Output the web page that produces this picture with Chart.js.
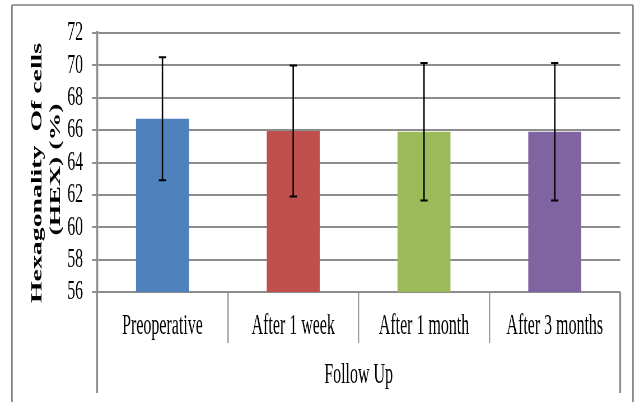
<!DOCTYPE html>
<html>
<head>
<meta charset="utf-8">
<script src="https://cdn.jsdelivr.net/npm/chart.js@4.4.1/dist/chart.umd.min.js"></script>
<style>
html, body { margin: 0; padding: 0; background: #fff; overflow: hidden; }
/* the reference picture is squeezed sideways: draw wide, squeeze with css */
#wrap { width: 1136px; height: 402px; transform: scaleX(0.56); transform-origin: 0 0; }
</style>
</head>
<body>
<div id="wrap"><canvas id="chart" width="1136" height="402"></canvas></div>
<script>
// Dữ liệu
const categories = ['Preoperative', 'After 1 week', 'After 1 month', 'After 3 months'];
const hexMeans = [66.7, 65.95, 65.9, 65.9];
const hexSD = [3.8, 4.05, 4.25, 4.25];
const barColors = ['#4F81BD', '#C0504D', '#9BBB59', '#8064A2'];
const yMin = 56;
const yMax = 72;
const yStep = 2;
const xTitle = 'Follow Up';
// trailing spaces nudge the rotated lines down a little, like the original
const yTitle = ['Hexagonality  Of cells   ', '(HEX) (%)  '];

const gridGray = '#8c8c8c';

// Thanh sai số (mean ± SD)
const errorBars = {
    id: 'errorBars',
    afterDatasetsDraw(chart) {
        const ctx = chart.ctx;
        const yScale = chart.scales.y;
        const meta = chart.getDatasetMeta(0);
        ctx.save();
        ctx.strokeStyle = '#000';
        meta.data.forEach((bar, i) => {
            const top = yScale.getPixelForValue(hexMeans[i] + hexSD[i]);
            const bottom = yScale.getPixelForValue(hexMeans[i] - hexSD[i]);
            ctx.lineWidth = 2.6;
            ctx.beginPath();
            ctx.moveTo(bar.x, top);
            ctx.lineTo(bar.x, bottom);
            ctx.stroke();
            ctx.lineWidth = 2;
            ctx.beginPath();
            ctx.moveTo(bar.x - 6.5, top);
            ctx.lineTo(bar.x + 6.5, top);
            ctx.moveTo(bar.x - 6.5, bottom);
            ctx.lineTo(bar.x + 6.5, bottom);
            ctx.stroke();
        });
        ctx.restore();
    }
};

// Khung ngoài + hai vạch dài ở hai đầu trục danh mục
const frame = {
    id: 'frame',
    afterDraw(chart) {
        const ctx = chart.ctx;
        const area = chart.chartArea;
        const h = chart.height;
        ctx.save();
        ctx.strokeStyle = gridGray;
        ctx.lineWidth = 3.4;
        ctx.beginPath();
        ctx.moveTo(area.left, area.bottom);
        ctx.lineTo(area.left, h - 9);
        ctx.moveTo(area.right, area.bottom);
        ctx.lineTo(area.right, h - 9);
        ctx.stroke();

        ctx.strokeStyle = '#808080';
        ctx.lineWidth = 2.7;
        ctx.beginPath();
        ctx.moveTo(21.4, h + 5);
        ctx.lineTo(21.4, 5);
        ctx.moveTo(1130.4, 5);
        ctx.lineTo(1130.4, h + 5);
        ctx.stroke();
        ctx.lineWidth = 1.6;
        ctx.beginPath();
        ctx.moveTo(21.4, 5);
        ctx.lineTo(1130.4, 5);
        ctx.stroke();
        ctx.restore();
    }
};

const serif = 'Liberation Serif, Times New Roman, serif';

new Chart(document.getElementById('chart'), {
    type: 'bar',
    data: {
        labels: categories,
        datasets: [{
            data: hexMeans,
            backgroundColor: barColors,
            categoryPercentage: 1,
            barPercentage: 0.405
        }]
    },
    options: {
        responsive: false,
        animation: false,
        events: [],
        layout: {
            padding: { left: 0, top: 33, right: 28.6, bottom: 9.4 }
        },
        plugins: {
            legend: { display: false },
            tooltip: { enabled: false }
        },
        scales: {
            x: {
                grid: {
                    offset: true,
                    drawOnChartArea: false,
                    drawTicks: true,
                    tickLength: 51,
                    color: '#9a9a9a',
                    lineWidth: 2.4
                },
                border: { display: false },
                ticks: {
                    color: '#000',
                    font: { family: serif, size: 28.5 },
                    padding: -34,
                    maxRotation: 0,
                    autoSkip: false
                },
                title: {
                    display: true,
                    text: xTitle,
                    color: '#000',
                    font: { family: serif, size: 28.5, lineHeight: 1.2 },
                    // chart.js counts tick padding twice in the axis size
                    padding: { top: 49.2, bottom: 0 }
                }
            },
            y: {
                min: yMin,
                max: yMax,
                ticks: {
                    stepSize: yStep,
                    autoSkip: false,
                    color: '#000',
                    font: { family: serif, size: 28, lineHeight: 1 },
                    padding: 16
                },
                grid: {
                    color: gridGray,
                    lineWidth: 2,
                    tickLength: 9
                },
                border: { display: true, color: gridGray, width: 3.4 },
                title: {
                    display: true,
                    text: yTitle,
                    color: '#000',
                    font: { family: serif, size: 27.8, weight: 'bold', lineHeight: 1.19 },
                    padding: { top: 50.5, bottom: -12.3 }
                }
            }
        }
    },
    plugins: [errorBars, frame]
});
</script>
</body>
</html>
